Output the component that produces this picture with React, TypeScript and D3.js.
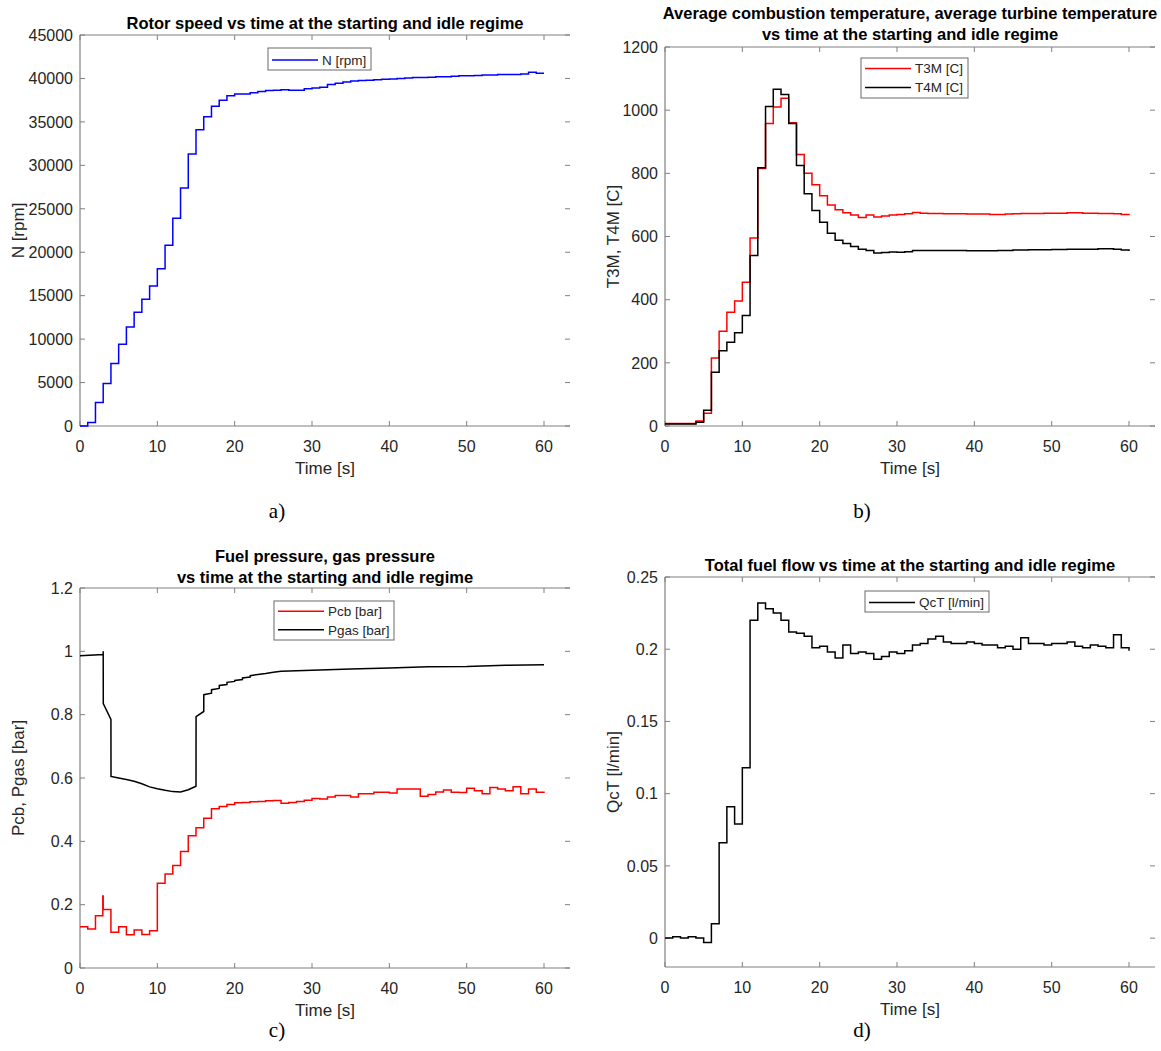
import React from 'react';
import * as d3 from 'd3';

// ---------------- DATA ----------------
const timeSec = d3.range(0, 61); // 0..60 s, 1 s sampling

const xTicks = [0, 10, 20, 30, 40, 50, 60];
const X_MAX = 63.36;

// a) Rotor speed N [rpm]
const rotorSpeedN = [
  0, 400, 2700, 4900, 7200, 9400, 11400, 13100, 14600, 16100,
  18100, 20800, 23900, 27400, 31300, 34100, 35600, 36800, 37500, 38000,
  38200, 38200, 38350, 38500, 38600, 38650, 38700, 38650, 38650, 38800,
  38900, 39000, 39300, 39450, 39600, 39700, 39750, 39800, 39850, 39900,
  39950, 40000, 40050, 40100, 40100, 40150, 40200, 40200, 40250, 40300,
  40300, 40350, 40400, 40400, 40450, 40450, 40450, 40500, 40700, 40600, 40600,
];
const nTicks = [0, 5000, 10000, 15000, 20000, 25000, 30000, 35000, 40000, 45000];

// b) Temperatures
const t3m = [
  8, 8, 8, 8, 16, 40, 215, 300, 360, 396,
  455, 595, 815, 958, 1010, 1038, 960, 860, 800, 764,
  729, 700, 685, 675, 668, 660, 668, 662, 665, 668,
  670, 672, 676, 674, 673, 673, 672, 672, 672, 671,
  671, 671, 670, 670, 671, 672, 673, 673, 673, 674,
  674, 674, 675, 675, 674, 674, 673, 673, 672, 670, 667,
];
const t4m = [
  6, 6, 6, 6, 12, 50, 170, 238, 265, 295,
  350, 540, 818, 1012, 1066, 1050, 958, 825, 735, 682,
  645, 610, 588, 578, 568, 560, 556, 548, 549, 551,
  550, 552, 556, 556, 556, 556, 556, 556, 556, 555,
  555, 555, 555, 556, 556, 557, 557, 558, 558, 558,
  559, 559, 560, 560, 560, 560, 561, 561, 560, 557, 554,
];
const tempTicks = [0, 200, 400, 600, 800, 1000, 1200];

// c) Pressures
const pcbTime = [0, 1, 2, 2.95, 3, 4, 5, 6, 7, 8, 9,
  10, 11, 12, 13, 14, 15, 16, 17, 18, 19,
  20, 21, 22, 23, 24, 25, 26, 27, 28, 29,
  30, 31, 32, 33, 34, 35, 36, 37, 38, 39,
  40, 41, 42, 43, 44, 45, 46, 47, 48, 49,
  50, 51, 52, 53, 54, 55, 56, 57, 58, 59, 60];
const pcb = [0.13, 0.123, 0.165, 0.227, 0.185, 0.113, 0.13, 0.105, 0.12, 0.106, 0.118,
  0.268, 0.297, 0.324, 0.368, 0.418, 0.443, 0.473, 0.503, 0.51, 0.516,
  0.522, 0.523, 0.525, 0.526, 0.528, 0.529, 0.52, 0.523, 0.526, 0.53,
  0.535, 0.534, 0.54, 0.545, 0.545, 0.54, 0.55, 0.55, 0.555, 0.555,
  0.553, 0.565, 0.565, 0.565, 0.542, 0.548, 0.556, 0.562, 0.555, 0.554,
  0.568, 0.56, 0.55, 0.57, 0.565, 0.56, 0.572, 0.55, 0.565, 0.555, 0.553];
const pgasTime = [0, 2.99, 3, 3.01, 4, 4.01, 5, 6, 7, 8, 9, 10, 11, 12, 13, 14, 15, 15.01,
  16, 16.01, 17, 17.01, 18, 18.01, 19, 19.01, 20, 20.01, 21, 21.01, 22, 22.01, 23,
  24, 25, 26, 28, 30, 35, 40, 45, 50, 55, 60];
const pgas = [0.986, 0.99, 1.0, 0.835, 0.785, 0.605, 0.6, 0.595, 0.59, 0.582, 0.572, 0.566, 0.561, 0.557, 0.556, 0.563, 0.574, 0.794,
  0.81, 0.863, 0.868, 0.879, 0.883, 0.892, 0.895, 0.902, 0.905, 0.908, 0.911, 0.916, 0.919, 0.923, 0.927,
  0.93, 0.934, 0.937, 0.939, 0.94, 0.944, 0.947, 0.951, 0.952, 0.956, 0.958];
const presTicks = [0, 0.2, 0.4, 0.6, 0.8, 1, 1.2];

// d) Total fuel flow
const qct = [
  0, 0.001, 0, 0.001, 0, -0.003, 0.01, 0.066, 0.091, 0.079,
  0.118, 0.22, 0.232, 0.228, 0.225, 0.22, 0.212, 0.211, 0.209, 0.201,
  0.202, 0.198, 0.194, 0.203, 0.197, 0.198, 0.197, 0.193, 0.195, 0.198,
  0.197, 0.199, 0.203, 0.204, 0.207, 0.209, 0.205, 0.204, 0.204, 0.205,
  0.204, 0.203, 0.203, 0.201, 0.202, 0.2, 0.208, 0.204, 0.204, 0.203,
  0.204, 0.204, 0.205, 0.202, 0.201, 0.203, 0.202, 0.201, 0.21, 0.201, 0.199,
];
const flowTicks = [0, 0.05, 0.1, 0.15, 0.2, 0.25];

// ---------------- RENDERING ----------------
const FONT = '"Liberation Sans", Arial, Helvetica, sans-serif';
const SERIF = '"Liberation Serif", "Times New Roman", serif';
const TXT = '#262626';
const AX = '#808080';

type Series = { t: number[]; v: number[]; color: string; name: string; curve: d3.CurveFactory };

type PanelProps = {
  left: number; right: number; top: number; bottom: number;
  yDomain: [number, number]; yTicks: number[]; fmt: (v: number) => string;
  series: Series[];
  title: string[]; titleBaselines: number[];
  ylabel: string; ylabelX: number;
  legend: { x: number; y: number; w: number; h: number; rowH: number };
  caption: string; captionX: number; captionY: number;
};

function Panel(p: PanelProps) {
  const x = d3.scaleLinear().domain([0, X_MAX]).range([p.left, p.right]);
  const y = d3.scaleLinear().domain(p.yDomain).range([p.bottom, p.top]);
  const cx = (p.left + p.right) / 2;
  const cy = (p.top + p.bottom) / 2;
  const tl = 5;
  const paths = p.series.map((s) =>
    d3.line<number>().x((_, i) => x(s.t[i])).y((d) => y(d)).curve(s.curve)(s.v) || ''
  );
  return (
    <g>
      {/* title */}
      {p.title.map((line, i) => (
        <text key={i} x={cx} y={p.titleBaselines[i]} textAnchor="middle" fontFamily={FONT}
          fontWeight="bold" fontSize={16.5} fill="#000">{line}</text>
      ))}
      {/* spines */}
      <line x1={p.left} x2={p.right} y1={p.bottom} y2={p.bottom} stroke={AX} strokeWidth={1.2} />
      <line x1={p.left} x2={p.right} y1={p.top} y2={p.top} stroke={AX} strokeWidth={1.2} />
      <line x1={p.left} x2={p.left} y1={p.top} y2={p.bottom} stroke={AX} strokeWidth={1.2} />
      {/* x ticks */}
      {xTicks.map((t) => (
        <g key={'x' + t}>
          <line x1={x(t)} x2={x(t)} y1={p.bottom} y2={p.bottom - tl} stroke={AX} />
          <line x1={x(t)} x2={x(t)} y1={p.top} y2={p.top + tl} stroke={AX} />
          <text x={x(t)} y={p.bottom + 26} textAnchor="middle" fontFamily={FONT} fontSize={16} fill={TXT}>{t}</text>
        </g>
      ))}
      {/* y ticks */}
      {p.yTicks.map((t) => (
        <g key={'y' + t}>
          <line x1={p.left} x2={p.left + tl} y1={y(t)} y2={y(t)} stroke={AX} />
          <line x1={p.right} x2={p.right - tl} y1={y(t)} y2={y(t)} stroke={AX} />
          <text x={p.left - 7} y={y(t)} dy="0.36em" textAnchor="end" fontFamily={FONT} fontSize={16} fill={TXT}>{p.fmt(t)}</text>
        </g>
      ))}
      {/* axis labels */}
      <text x={cx} y={p.bottom + 48} textAnchor="middle" fontFamily={FONT} fontSize={17} fill={TXT}>Time [s]</text>
      <text transform={`translate(${p.ylabelX},${cy}) rotate(-90)`} textAnchor="middle" dy="0.35em"
        fontFamily={FONT} fontSize={17} fill={TXT}>{p.ylabel}</text>
      {/* data */}
      <g>
        {paths.map((d, i) => (
          <path key={i} d={d} fill="none" stroke={p.series[i].color} strokeWidth={1.5} strokeLinejoin="miter" />
        ))}
      </g>
      {/* legend */}
      <rect x={p.legend.x} y={p.legend.y} width={p.legend.w} height={p.legend.h} fill="#fff" stroke="#6a6a6a" strokeWidth={1} />
      {p.series.map((s, i) => {
        const ly = p.legend.y + p.legend.rowH * (i + 0.5) + 1;
        return (
          <g key={'l' + i}>
            <line x1={p.legend.x + 4} x2={p.legend.x + 50} y1={ly} y2={ly} stroke={s.color} strokeWidth={1.5} />
            <text x={p.legend.x + 54} y={ly} dy="0.36em" fontFamily={FONT} fontSize={13.5} fill={TXT}>{s.name}</text>
          </g>
        );
      })}
      {/* caption */}
      <text x={p.captionX} y={p.captionY} textAnchor="middle" fontFamily={SERIF} fontSize={21} fill="#000">{p.caption}</text>
    </g>
  );
}

export default function App() {
  const step = d3.curveStepAfter;
  const fmtInt = (v: number) => String(v);
  const fmtDec = (v: number) => String(+v.toFixed(2));
  return (
    <svg width={1161} height={1051} style={{ position: 'absolute', left: 0, top: 0, background: '#fff' }}>
      <rect x={0} y={0} width={1161} height={1051} fill="#fff" />
      <Panel
        left={80} right={570} top={35} bottom={426}
        yDomain={[0, 45000]} yTicks={nTicks} fmt={fmtInt}
        series={[{ t: timeSec, v: rotorSpeedN, color: '#0000ff', name: 'N [rpm]', curve: step }]}
        title={['Rotor speed vs time at the starting and idle regime']} titleBaselines={[29]}
        ylabel="N [rpm]" ylabelX={18}
        legend={{ x: 268, y: 48, w: 103, h: 22, rowH: 22 }}
        caption="a)" captionX={277} captionY={518}
      />
      <Panel
        left={665} right={1155} top={47} bottom={426}
        yDomain={[0, 1200]} yTicks={tempTicks} fmt={fmtInt}
        series={[
          { t: timeSec, v: t3m, color: '#ff0000', name: 'T3M [C]', curve: step },
          { t: timeSec, v: t4m, color: '#000000', name: 'T4M [C]', curve: step },
        ]}
        title={['Average combustion temperature, average turbine temperature', 'vs time at the starting and idle regime']}
        titleBaselines={[19, 40]}
        ylabel="T3M, T4M [C]" ylabelX={613}
        legend={{ x: 861, y: 58, w: 107, h: 40, rowH: 19 }}
        caption="b)" captionX={862} captionY={518}
      />
      <Panel
        left={80} right={570} top={588} bottom={968}
        yDomain={[0, 1.2]} yTicks={presTicks} fmt={fmtDec}
        series={[
          { t: pcbTime, v: pcb, color: '#ff0000', name: 'Pcb [bar]', curve: step },
          { t: pgasTime, v: pgas, color: '#000000', name: 'Pgas [bar]', curve: d3.curveLinear },
        ]}
        title={['Fuel pressure, gas pressure', 'vs time at the starting and idle regime']}
        titleBaselines={[562, 583]}
        ylabel="Pcb, Pgas [bar]" ylabelX={18}
        legend={{ x: 274, y: 601, w: 120, h: 39, rowH: 18.5 }}
        caption="c)" captionX={277} captionY={1037}
      />
      <Panel
        left={665} right={1155} top={577} bottom={967}
        yDomain={[-0.02, 0.25]} yTicks={flowTicks} fmt={fmtDec}
        series={[{ t: timeSec, v: qct, color: '#000000', name: 'QcT [l/min]', curve: step }]}
        title={['Total fuel flow vs time at the starting and idle regime']} titleBaselines={[571]}
        ylabel="QcT [l/min]" ylabelX={613}
        legend={{ x: 865, y: 591, w: 124, h: 21, rowH: 21 }}
        caption="d)" captionX={862} captionY={1037}
      />
    </svg>
  );
}
